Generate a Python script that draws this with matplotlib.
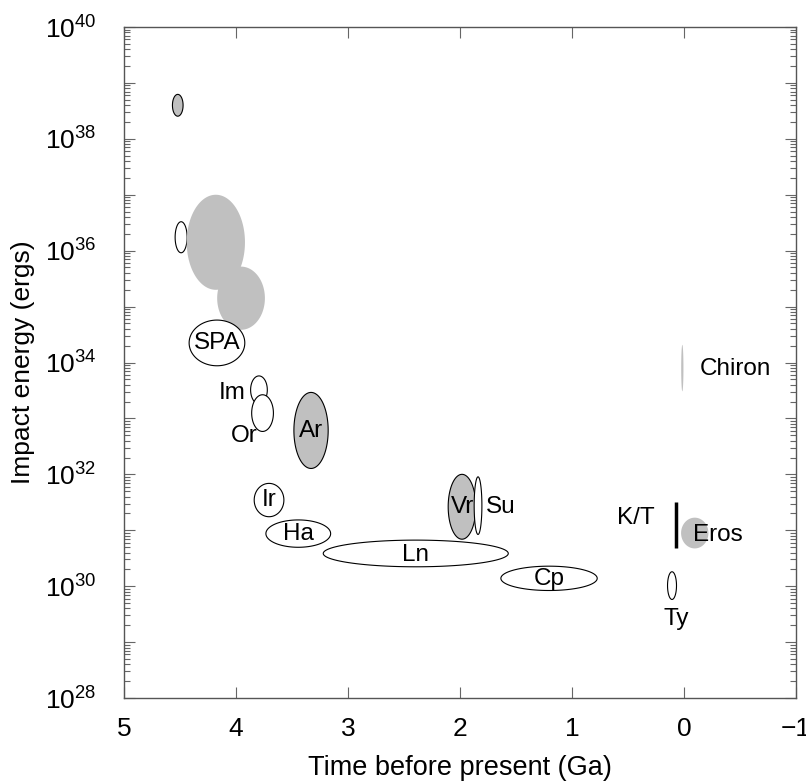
import numpy as np
import matplotlib
matplotlib.use('Agg')
from matplotlib import pyplot as plt
from matplotlib import ticker

plt.rcParams['font.family'] = ['Liberation Sans', 'DejaVu Sans']
plt.rcParams['mathtext.fontset'] = 'custom'
plt.rcParams['mathtext.rm'] = 'Liberation Sans'
plt.rcParams['mathtext.it'] = 'Liberation Sans:italic'

# impact events: age (Ga), log10 energy (ergs), extent in age and log10 energy
age = [4.52, 4.49, 4.18, 3.955, 4.17, 3.795, 3.763, 3.33, 3.705, 3.444,
       2.395, 1.982, 1.839, 1.205, 0.107, -0.096, 0.015]
log_e = [38.6, 36.24, 36.15, 35.15, 34.35, 33.51, 33.095, 32.785, 31.54,
         30.94, 30.585, 31.42, 31.44, 30.14, 30.01, 30.95, 33.9]
age_w = [0.095, 0.107, 0.52, 0.426, 0.497, 0.149, 0.194, 0.306, 0.265,
         0.578, 1.652, 0.247, 0.069, 0.86, 0.08, 0.244, 0.02]
log_h = [0.39, 0.555, 1.70, 1.13, 0.817, 0.50, 0.656, 1.36, 0.596, 0.489,
         0.477, 1.16, 1.03, 0.435, 0.495, 0.55, 0.83]
# 'g' gray with outline, 'G' gray no outline, 'w' white with outline
style = ['g', 'w', 'G', 'G', 'w', 'w', 'w', 'g', 'w', 'w',
         'w', 'g', 'w', 'w', 'w', 'G', 'G']

# labels: text, age, log10 energy, alignment
labels = ['SPA', 'Im', 'Or', 'Ar', 'Ir', 'Ha', 'Ln', 'Vr', 'Su', 'Cp',
          'K/T', 'Eros', 'Ty', 'Chiron']
lab_age = [4.17, 3.91, 3.81, 3.33, 3.705, 3.444, 2.395, 1.982, 1.768,
           1.205, 0.259, -0.078, 0.07, -0.137]
lab_loge = [34.35, 33.45, 32.68, 32.78, 31.54, 30.94, 30.56, 31.42, 31.42,
            30.12, 31.22, 30.92, 29.42, 33.89]
lab_ha = ['center', 'right', 'right', 'center', 'center', 'center',
          'center', 'center', 'left', 'center', 'right', 'left', 'center',
          'left']

# K/T boundary bar
kt_age = 0.071
kt_loge = [30.675, 31.51]

gray = '#c0c0c0'

fig = plt.figure(figsize=(8.06, 7.83), dpi=100)
ax = fig.add_axes([124 / 806, 1 - 698 / 783, 672 / 806, 671 / 783])

t = np.linspace(0, 2 * np.pi, 200)
for x, y, w, h, s in zip(age, log_e, age_w, log_h, style):
    ex = x + w / 2 * np.cos(t)
    ey = 10 ** (y + h / 2 * np.sin(t))
    if s == 'G':
        ax.fill(ex, ey, facecolor=gray, edgecolor='none')
    else:
        ax.fill(ex, ey, facecolor=gray if s == 'g' else 'white',
                edgecolor='black', linewidth=0.8)

ax.plot([kt_age, kt_age], [10 ** v for v in kt_loge],
        color='black', linewidth=2.5, solid_capstyle='butt')

for txt, x, y, ha in zip(labels, lab_age, lab_loge, lab_ha):
    ax.text(x, 10 ** y, txt, ha=ha, va='center', fontsize=17.5, zorder=5)

ax.set_xlim(5, -1)
ax.set_yscale('log')
ax.set_ylim(1e28, 1e40)

ax.xaxis.set_major_locator(ticker.MultipleLocator(1))
ax.yaxis.set_major_locator(ticker.LogLocator(base=10, numticks=30))
ax.yaxis.set_minor_locator(
    ticker.LogLocator(base=10, subs=np.arange(2, 10), numticks=30))


def even_decades(v, pos):
    n = int(round(np.log10(v)))
    return r'$10^{%d}$' % n if n % 2 == 0 else ''


ax.yaxis.set_major_formatter(ticker.FuncFormatter(even_decades))
ax.yaxis.set_minor_formatter(ticker.NullFormatter())

ax.tick_params(which='both', direction='in', top=True, right=True,
               color='#666666', width=0.8, labelsize=19)
ax.tick_params(axis='x', pad=14)
ax.tick_params(axis='y', pad=20)
ax.tick_params(which='major', length=8)
ax.tick_params(which='minor', length=4.5)
for sp in ax.spines.values():
    sp.set_color('#555555')
    sp.set_linewidth(1.0)

ax.set_xlabel('Time before present (Ga)', fontsize=19.5, labelpad=10)
ax.set_ylabel('Impact energy (ergs)', fontsize=19, labelpad=7)

fig.savefig('out.png', dpi=100)
